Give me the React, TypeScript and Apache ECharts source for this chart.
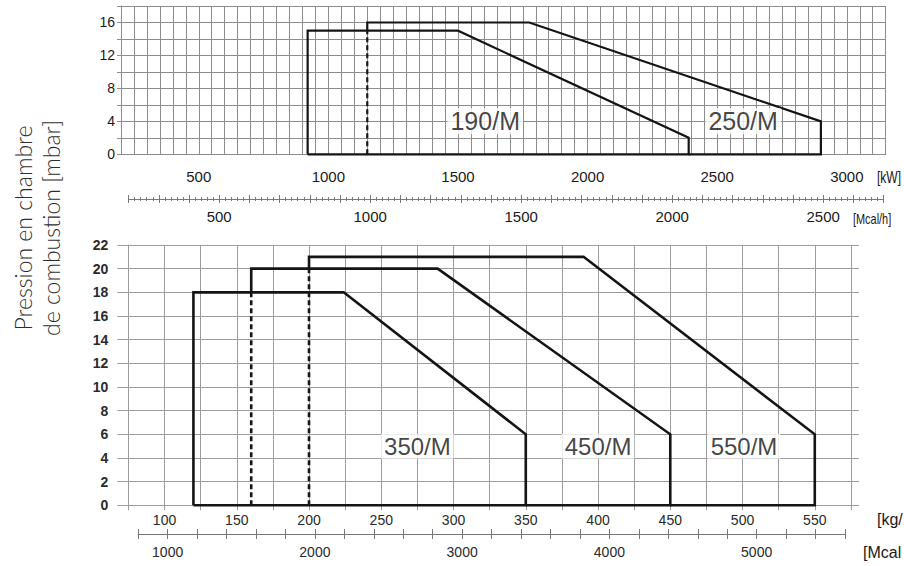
import React, { useEffect, useRef } from 'react';
import * as echarts from 'echarts';

// ---------- top chart (kW / Mcal/h) ----------
const kwRange = [200, 3150];
const kwLabels = [500, 1000, 1500, 2000, 2500, 3000];
const mcalTopRange = [200, 2700];
const mcalTopLabels = [500, 1000, 1500, 2000, 2500];
const pressTopRange = [0, 18];
const pressTopLabels = [0, 4, 8, 12, 16];

const m190 = [[920, 0], [920, 15], [1500, 15], [2390, 2], [2390, 0], [920, 0]];
const m250 = [[1150, 15], [1150, 16], [1775, 16], [2900, 4], [2900, 0], [2390, 0]];
const m250dash = [[1150, 0], [1150, 15]];
const topTags = [
  { name: '190/M', value: [1605, 4] },
  { name: '250/M', value: [2600, 4] },
];

// ---------- bottom chart (kg/h / Mcal/h) ----------
const kgRange = [75, 575];
const kgLabels = [100, 150, 200, 250, 300, 350, 400, 450, 500, 550];
const mcalBotRange = [800, 5600];
const mcalBotLabels = [1000, 2000, 3000, 4000, 5000];
const pressBotRange = [0, 22];

const m350 = [[120, 0], [120, 18], [224, 18], [350, 6], [350, 0], [120, 0]];
const m450 = [[160, 18], [160, 20], [289, 20], [450, 6], [450, 0], [350, 0]];
const m450dash = [[160, 0], [160, 18]];
const m550 = [[200, 20], [200, 21], [390, 21], [550, 6], [550, 0], [450, 0]];
const m550dash = [[200, 0], [200, 20]];
const botTags = [
  { name: '350/M', value: [275, 5] },
  { name: '450/M', value: [400, 5] },
  { name: '550/M', value: [501, 5] },
];

// unit captions (as visible in the reference, the lower two are cut by the page edge)
const unitKw = '[kW]';
const unitMcalTop = '[Mcal/h]';
const unitKg = '[kg/';
const unitMcalBot = '[Mcal';
const axisTitle = 'Pression en chambre\nde combustion [mbar]';

const SANS = '"Liberation Sans", Arial, sans-serif';
const GRID_TOP = '#8c8c8c';
const GRID_BOT = '#9c9c9c';
const INK = '#141414';

const pick = (list: number[]) => (v: number) => (list.indexOf(Math.round(v)) >= 0 ? String(Math.round(v)) : '');

function shape(data: number[][], xi: number, yi: number, dashed = false, width = 2.4) {
  return {
    type: 'line',
    xAxisIndex: xi,
    yAxisIndex: yi,
    data,
    showSymbol: false,
    symbol: 'none',
    silent: true,
    clip: false,
    lineStyle: { color: INK, width, type: dashed ? [5, 3] : 'solid', cap: 'butt', join: 'miter' },
    z: 5,
  };
}

function tags(data: any[], xi: number, yi: number, size: number) {
  return {
    type: 'scatter',
    xAxisIndex: xi,
    yAxisIndex: yi,
    data,
    symbolSize: 1,
    itemStyle: { color: 'rgba(0,0,0,0)' },
    silent: true,
    z: 6,
    label: {
      show: true,
      position: 'inside',
      formatter: (p: any) => p.name,
      fontFamily: SANS,
      fontSize: size,
      color: INK,
      backgroundColor: '#fff',
      padding: [1, 3, 0, 3],
    },
  };
}

export default function App() {
  const ref = useRef<HTMLDivElement>(null);
  useEffect(() => {
    if (!ref.current) return;
    const chart = echarts.init(ref.current, undefined, { renderer: 'svg' });
    const option: any = {
      animation: false,
      backgroundColor: '#fff',
      grid: [
        { left: 121, top: 6, width: 764.7, height: 148.3 },
        { left: 128.6, top: 198, width: 755, height: 1 },
        { left: 128.4, top: 245, width: 722.5, height: 260.3 },
        { left: 138.2, top: 533, width: 706.8, height: 1 },
      ],
      xAxis: [
        {
          gridIndex: 0, type: 'value', min: kwRange[0], max: kwRange[1], interval: 50,
          position: 'bottom', offset: 7,
          axisLine: { show: true, lineStyle: { color: GRID_TOP, width: 1 } },
          axisTick: { show: true, inside: true, length: 7, lineStyle: { color: GRID_TOP } },
          axisLabel: { formatter: pick(kwLabels), fontFamily: SANS, fontSize: 15, color: '#1a1a1a', margin: 8 },
          splitLine: { show: true, lineStyle: { color: GRID_TOP, width: 1 } },
        },
        {
          gridIndex: 1, type: 'value', min: mcalTopRange[0], max: mcalTopRange[1], interval: 100,
          position: 'bottom',
          axisLine: { show: true, lineStyle: { color: '#777', width: 1 } },
          axisTick: { show: true, length: 4, lineStyle: { color: '#777' } },
          minorTick: { show: true, splitNumber: 5, length: 2, lineStyle: { color: '#777' } },
          axisLabel: { formatter: pick(mcalTopLabels), fontFamily: SANS, fontSize: 15, color: '#1a1a1a', margin: 10 },
          splitLine: { show: false },
        },
        {
          gridIndex: 1, type: 'value', min: mcalTopRange[0], max: mcalTopRange[1], interval: 100,
          position: 'bottom',
          axisLine: { show: false },
          axisTick: { show: true, inside: true, length: 4, lineStyle: { color: '#777' } },
          minorTick: { show: true, splitNumber: 5, length: 2, lineStyle: { color: '#777' } },
          axisLabel: { show: false },
          splitLine: { show: false },
        },
        {
          gridIndex: 2, type: 'value', min: kgRange[0], max: kgRange[1], interval: 25,
          position: 'bottom',
          axisLine: { show: true, lineStyle: { color: GRID_BOT, width: 1 } },
          axisTick: { show: true, length: 5, lineStyle: { color: GRID_BOT } },
          axisLabel: { formatter: pick(kgLabels), fontFamily: SANS, fontSize: 14, color: '#2a2a2a', margin: 8 },
          splitLine: { show: true, lineStyle: { color: GRID_BOT, width: 1 } },
        },
        {
          gridIndex: 3, type: 'value', min: mcalBotRange[0], max: mcalBotRange[1], interval: 200,
          position: 'bottom',
          axisLine: { show: true, lineStyle: { color: '#777', width: 1 } },
          axisTick: { show: true, length: 5, lineStyle: { color: '#777' } },
          axisLabel: { formatter: pick(mcalBotLabels), fontFamily: SANS, fontSize: 14, color: '#2a2a2a', margin: 11 },
          splitLine: { show: false },
        },
        {
          gridIndex: 3, type: 'value', min: mcalBotRange[0], max: mcalBotRange[1], interval: 200,
          position: 'bottom',
          axisLine: { show: false },
          axisTick: { show: true, inside: true, length: 5, lineStyle: { color: '#777' } },
          axisLabel: { show: false },
          splitLine: { show: false },
        },
      ],
      yAxis: [
        {
          gridIndex: 0, type: 'value', min: pressTopRange[0], max: pressTopRange[1], interval: 2,
          axisLine: { show: true, lineStyle: { color: GRID_TOP, width: 1 } },
          axisTick: { show: true, length: 4, lineStyle: { color: GRID_TOP } },
          axisLabel: { formatter: pick(pressTopLabels), fontFamily: SANS, fontSize: 14, color: '#1a1a1a', margin: 6 },
          splitLine: { show: true, lineStyle: { color: GRID_TOP, width: 1 } },
        },
        { gridIndex: 1, type: 'value', min: 0, max: 1, show: false },
        {
          gridIndex: 2, type: 'value', min: pressBotRange[0], max: pressBotRange[1], interval: 2,
          axisLine: { show: true, lineStyle: { color: GRID_BOT, width: 1 } },
          axisTick: { show: true, length: 11, lineStyle: { color: GRID_BOT } },
          axisLabel: { fontFamily: SANS, fontSize: 14, fontWeight: 'bold', color: '#2a2a2a', margin: 20 },
          splitLine: { show: true, lineStyle: { color: GRID_BOT, width: 1 } },
        },
        {
          gridIndex: 2, type: 'value', min: pressBotRange[0], max: pressBotRange[1], interval: 2,
          position: 'right',
          axisLine: { show: false },
          axisTick: { show: true, length: 8, lineStyle: { color: GRID_BOT } },
          axisLabel: { show: false },
          splitLine: { show: false },
        },
        { gridIndex: 3, type: 'value', min: 0, max: 1, show: false },
      ],
      graphic: [
        {
          type: 'text', x: 37, y: 228, rotation: Math.PI / 2,
          style: {
            text: axisTitle,
            align: 'center', verticalAlign: 'middle',
            fontFamily: 'Lato, "Open Sans", sans-serif', fontWeight: 300, fontSize: 23, lineHeight: 28,
            fill: '#2e2e2e',
          },
        },
        { type: 'text', x: 877, y: 177, scaleX: 0.75, style: { text: unitKw, fontFamily: SANS, fontSize: 16, fill: '#1a1a1a', verticalAlign: 'middle' } },
        { type: 'text', x: 853, y: 220, scaleX: 0.78, style: { text: unitMcalTop, fontFamily: SANS, fontSize: 14, fill: '#1a1a1a', verticalAlign: 'middle' } },
        { type: 'text', x: 877, y: 519, style: { text: unitKg, fontFamily: SANS, fontSize: 16, fill: '#1a1a1a', verticalAlign: 'middle' } },
        { type: 'text', x: 863, y: 552, style: { text: unitMcalBot, fontFamily: SANS, fontSize: 16, fill: '#1a1a1a', verticalAlign: 'middle' } },
      ],
      series: [
        shape(m250dash, 0, 0, true, 2.2),
        shape(m190, 0, 0, false, 2.2),
        shape(m250, 0, 0, false, 2.2),
        tags(topTags, 0, 0, 25),
        shape(m450dash, 3, 2, true, 2.6),
        shape(m550dash, 3, 2, true, 2.6),
        shape(m350, 3, 2, false, 2.6),
        shape(m450, 3, 2, false, 2.6),
        shape(m550, 3, 2, false, 2.6),
        tags(botTags, 3, 2, 24),
      ],
    };
    chart.setOption(option);
    return () => chart.dispose();
  }, []);
  return (
    <div
      ref={ref}
      style={{ position: 'fixed', left: 0, top: 0, width: 904, height: 566, background: '#fff' }}
    />
  );
}
